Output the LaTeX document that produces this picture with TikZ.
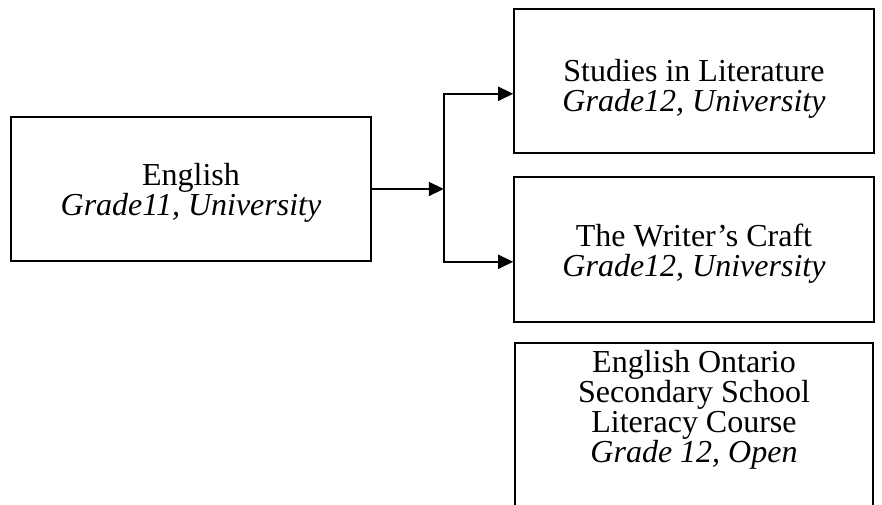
\documentclass[tikz,border=0pt]{standalone}
\usepackage{fontspec}
\setmainfont{Liberation Serif}
\usetikzlibrary{arrows.meta,positioning}

\begin{document}
\begin{tikzpicture}[x=1pt,y=-1pt,
        course/.style={
            % The shape:
            rectangle,
            % The size:
            minimum width=360pt,
            minimum height=144pt,
            inner sep=0pt,
            % The border
            line width=1.6pt,
            draw=black,
            % Font
            font=\fontsize{32}{30}\selectfont,
            align=center,
            text depth=0pt
        },
        link/.style={
            line width=1.6pt,
            -{Triangle[length=15pt,width=14pt]}
        }]

        \useasboundingbox (0,0) rectangle (882,505);
        \clip (0,0) rectangle (882,505);

        % The courses
        \node [course, text height=52pt] (english) at (191,189) {English\\\textit{Grade11, University}};
        \node [course, text height=61pt] (studies) at (694,81) {Studies in Literature\\\textit{Grade12, University}};
        \node [course, text height=54pt, minimum height=145pt] (craft) at (694,249.5) {The Writer’s Craft\\\textit{Grade12, University}};
        \node [course, anchor=north, minimum width=358pt, text height=120pt, text depth=100pt] (literacy) at (694,342)
            {English Ontario\\Secondary School\\Literacy Course\\\textit{Grade 12, Open}};

        % The links
        \coordinate (split) at ([xshift=72pt]english.east);
        \draw [link] (english.east) -- (split);
        \draw [link] (split) |- ([yshift=60pt]studies.south west);
        \draw [link] (split) |- ([yshift=61pt]craft.south west);

    \end{tikzpicture}
\end{document}
